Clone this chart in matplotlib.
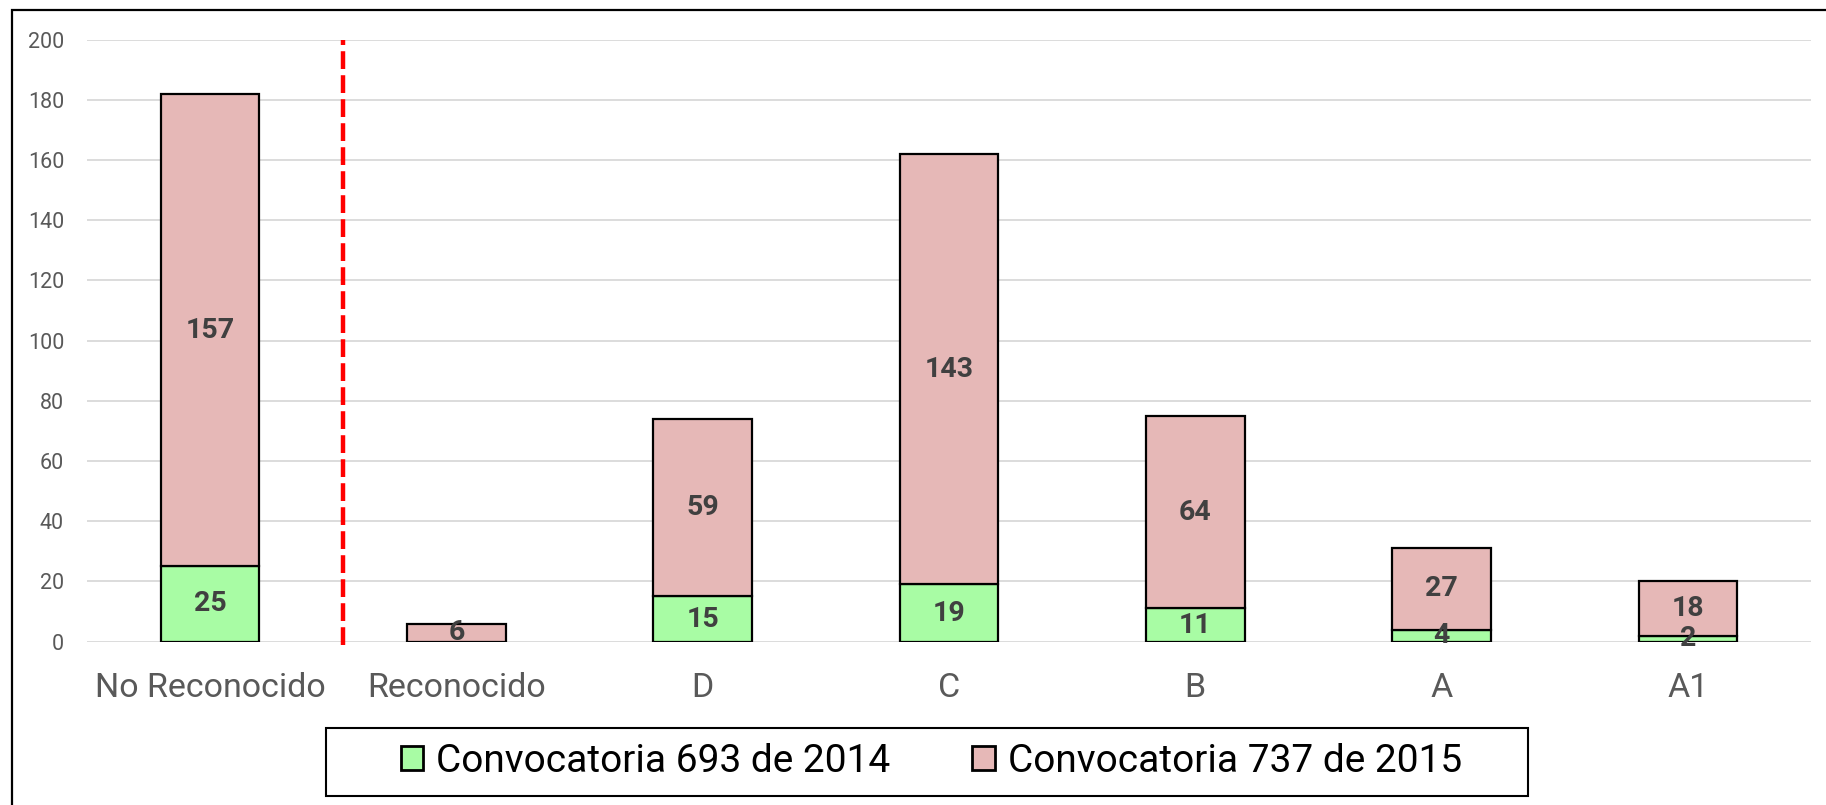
import numpy as np
import matplotlib.pyplot as plt
from matplotlib.patches import Rectangle

categories = ["No Reconocido", "Reconocido", "D", "C", "B", "A", "A1"]
conv_2014 = [25, 0, 15, 19, 11, 4, 2]
conv_2015 = [157, 6, 59, 143, 64, 27, 18]
series_names = ["Convocatoria 693 de 2014", "Convocatoria 737 de 2015"]
y_ticks = [0, 20, 40, 60, 80, 100, 120, 140, 160, 180, 200]

green = "#a8fca4"
pink = "#e6b8b7"
plt.rcParams["font.family"] = ["Roboto", "DejaVu Sans"]

W, H = 1826, 805
fig = plt.figure(figsize=(W / 100, H / 100), dpi=100)
ax = fig.add_axes([87 / W, 1 - 641.6 / H, (1811 - 87) / W, (641.6 - 39.6) / H])

x = np.arange(len(categories))
b1 = ax.bar(x, conv_2014, width=0.4, color=green, edgecolor="black", linewidth=1.6, zorder=3)
b2 = ax.bar(x, conv_2015, width=0.4, bottom=conv_2014, color=pink, edgecolor="black",
            linewidth=1.6, zorder=3)

for i in range(len(categories)):
    if conv_2014[i] > 0:
        ax.text(x[i], conv_2014[i] / 2, str(conv_2014[i]), ha="center", va="center",
                fontsize=20.5, fontweight="bold", color="#404040", zorder=5)
    if conv_2015[i] > 0:
        ax.text(x[i], conv_2014[i] + conv_2015[i] / 2, str(conv_2015[i]), ha="center",
                va="center", fontsize=20.5, fontweight="bold", color="#404040", zorder=5)

# red dashed separator
ax.plot([0.54, 0.54], [-1.2, 200], color="red", linewidth=3.2, dashes=(4, 1.4),
        clip_on=False, zorder=4)

ax.set_xlim(-0.5, len(categories) - 0.5)
ax.set_ylim(0, 200)
ax.set_yticks(y_ticks)
ax.set_xticks(x)
ax.set_xticklabels(categories, fontsize=24.5, color="#595959")
ax.tick_params(axis="y", labelsize=15.5, labelcolor="#595959", length=0, pad=16.5)
ax.tick_params(axis="x", length=0, pad=22)
ax.grid(axis="y", color="#d9d9d9", linewidth=1.3, zorder=0)
ax.set_axisbelow(True)
for s in ax.spines.values():
    s.set_visible(False)

# outer frame (runs off the right and bottom edges)
top = 1 - 10 / H
fig.patches.append(Rectangle((12 / W, -0.2), 1.2, top + 0.2, transform=fig.transFigure,
                             fill=False, edgecolor="black", linewidth=1.6, zorder=10))

# legend box
fig.patches.append(Rectangle((325.7 / W, 1 - 795.7 / H), (1527.7 - 325.7) / W,
                             (795.7 - 728) / H, transform=fig.transFigure, fill=False,
                             edgecolor="black", linewidth=1.5, zorder=10))
leg = fig.legend([b1, b2], series_names, loc="center", bbox_to_anchor=(931.3 / W, 1 - 761 / H),
                 ncol=2, frameon=False, fontsize=28, handlelength=0.59, handleheight=0.59,
                 handletextpad=0.33, columnspacing=2.1, borderpad=0, borderaxespad=0)
for h in leg.legend_handles:
    h.set_linewidth(2)

fig.savefig("out.png", dpi=100)
